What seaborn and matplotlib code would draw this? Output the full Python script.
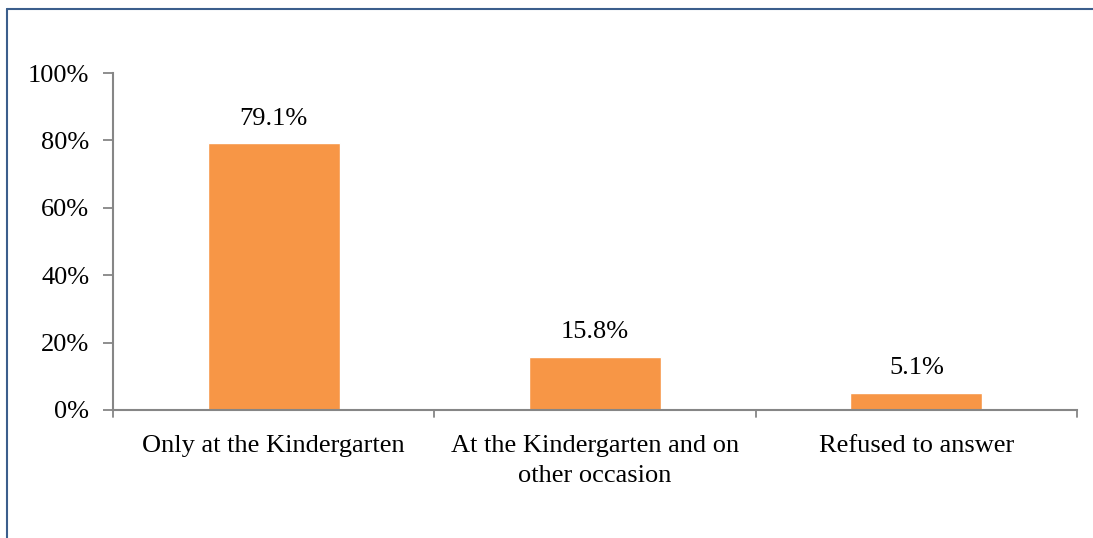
import matplotlib
matplotlib.use('Agg')
import matplotlib.pyplot as plt
import seaborn as sns
import pandas as pd
from matplotlib.lines import Line2D

categories = ['Only at the Kindergarten', 'At the Kindergarten and on\nother occasion', 'Refused to answer']
values = [79.1, 15.8, 5.1]
y_ticks = [0, 20, 40, 60, 80, 100]
y_tick_labels = ['0%', '20%', '40%', '60%', '80%', '100%']

sns.set_style('white')
plt.rcParams['font.family'] = ['Liberation Serif', 'DejaVu Serif']
plt.rcParams['text.color'] = 'black'
plt.rcParams['xtick.labelcolor'] = 'black'
plt.rcParams['ytick.labelcolor'] = 'black'

df = pd.DataFrame({'category': categories, 'value': values})

W, H = 1093, 538
fig = plt.figure(figsize=(W / 100, H / 100), dpi=100)
ax = fig.add_axes([113 / W, 1 - 410 / H, (1077 - 113) / W, (410 - 73) / H])

axis_color = '#868686'
fs = 19
sns.barplot(data=df, x='category', y='value', color='#F79646', saturation=1,
            width=0.41, ax=ax)

ax.set_xlim(-0.5, 2.5)
ax.set_ylim(0, 100)
ax.set_yticks(y_ticks)
ax.set_yticklabels(y_tick_labels, fontsize=fs)
ax.set_xticks([0, 1, 2])
ax.set_xticklabels(categories, fontsize=fs, linespacing=1.45)
ax.tick_params(axis='x', length=0, pad=18)
ax.tick_params(axis='y', length=7, width=1.3, color=axis_color, pad=10, left=True)
ax.set_xlabel('')
ax.set_ylabel('')

for side in ['top', 'right']:
    ax.spines[side].set_visible(False)
for side in ['left', 'bottom']:
    ax.spines[side].set_color(axis_color)
    ax.spines[side].set_linewidth(1.5)

# category separator ticks on the x axis
for b in [-0.5, 0.5, 1.5, 2.5]:
    ax.plot([b, b], [0, -2.1], color=axis_color, lw=1.3, clip_on=False)

for i, v in enumerate(values):
    ax.text(i, v + 4, f'{v:.1f}%', ha='center', va='bottom', fontsize=fs)

# chart-area border (only top and left visible in the crop)
fig.add_artist(Line2D([7 / W, 7 / W], [0, 1 - 9 / H], color='#3B5E8C', lw=1.5,
                      transform=fig.transFigure))
fig.add_artist(Line2D([7 / W, 1], [1 - 9 / H, 1 - 9 / H], color='#3B5E8C', lw=1.5,
                      transform=fig.transFigure))

fig.savefig('out.png', dpi=100, facecolor='white')
